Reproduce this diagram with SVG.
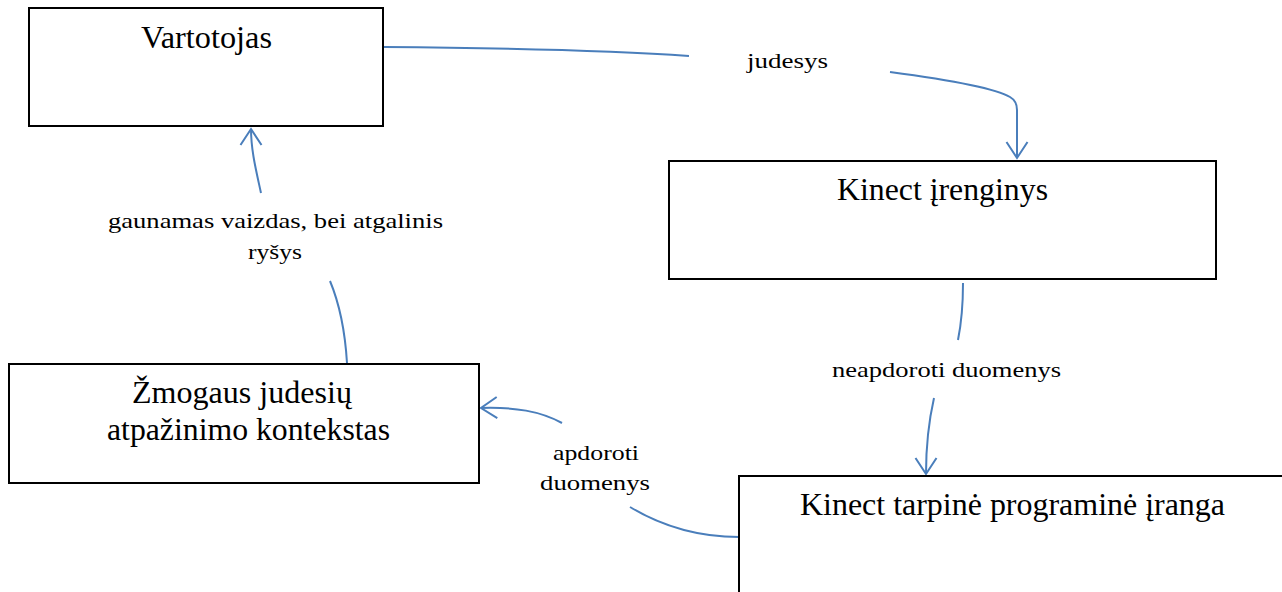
<svg xmlns="http://www.w3.org/2000/svg" width="1282" height="592" viewBox="0 0 1282 592">
  <style>
    .box { fill: #ffffff; stroke: #000000; stroke-width: 2; }
    .ntext { font-family: "Liberation Serif", "Times New Roman", serif; font-size: 32px; fill: #000000; }
    .ltext { font-family: "Liberation Serif", "Times New Roman", serif; font-size: 22px; fill: #000000; }
    .conn { fill: none; stroke: #4a7ebb; stroke-width: 2; }
  </style>
  <defs>
    <marker id="arrow" markerUnits="userSpaceOnUse" viewBox="-20 -14 24 28" refX="0" refY="0" markerWidth="24" markerHeight="28" orient="auto" overflow="visible">
      <path d="M-16,-10.5 L0,0 L-16,10.5" fill="none" stroke="#4a7ebb" stroke-width="2"/>
    </marker>
  </defs>
  <rect x="0" y="0" width="1282" height="592" fill="#ffffff"/>

  <g id="connectors">
    <path class="conn" d="M384,47 C500,48 620,51 689,56"/>
    <path class="conn" d="M890,72 C950,80 995,88 1010,97 Q1017,101 1017,110 L1017,158" marker-end="url(#arrow)"/>
    <path class="conn" d="M963,283 C963,305 961,325 958,340"/>
    <path class="conn" d="M934,398 C929,420 926,440 926,474" marker-end="url(#arrow)"/>
    <path class="conn" d="M739,537 C690,537 655,522 630,507"/>
    <path class="conn" d="M562,423 C540,411 515,407 481,408" marker-end="url(#arrow)"/>
    <path class="conn" d="M347,363 C345,330 340,305 330,281"/>
    <path class="conn" d="M261,193 C256,170 251,150 251,129" marker-end="url(#arrow)"/>
    <g id="edge-labels">
      <text class="ltext" x="747" y="68" textLength="81" lengthAdjust="spacingAndGlyphs">judesys</text>
      <text class="ltext" x="832" y="377" textLength="229" lengthAdjust="spacingAndGlyphs">neapdoroti duomenys</text>
      <text class="ltext" x="553" y="460" textLength="86" lengthAdjust="spacingAndGlyphs">apdoroti</text>
      <text class="ltext" x="540" y="490" textLength="110" lengthAdjust="spacingAndGlyphs">duomenys</text>
      <text class="ltext" x="108" y="228" textLength="335" lengthAdjust="spacingAndGlyphs">gaunamas vaizdas, bei atgalinis</text>
      <text class="ltext" x="248" y="259" textLength="54" lengthAdjust="spacingAndGlyphs">ryšys</text>
    </g>
  </g>

  <g id="node-vartotojas">
    <rect class="box" x="29" y="8" width="354" height="118"/>
    <text class="ntext" x="141" y="48" textLength="131" lengthAdjust="spacingAndGlyphs">Vartotojas</text>
  </g>
  <g id="node-kinect-irenginys">
    <rect class="box" x="669" y="161" width="547" height="118"/>
    <text class="ntext" x="837" y="200" textLength="211" lengthAdjust="spacingAndGlyphs">Kinect įrenginys</text>
  </g>
  <g id="node-zmogaus">
    <rect class="box" x="9" y="364" width="470" height="119"/>
    <text class="ntext" x="132" y="403" textLength="220" lengthAdjust="spacingAndGlyphs">Žmogaus judesių</text>
    <text class="ntext" x="107" y="440" textLength="283" lengthAdjust="spacingAndGlyphs">atpažinimo kontekstas</text>
  </g>
  <g id="node-kinect-tarpine">
    <rect class="box" x="739" y="476" width="600" height="200"/>
    <text class="ntext" x="800" y="515" textLength="425" lengthAdjust="spacingAndGlyphs">Kinect tarpinė programinė įranga</text>
  </g>
</svg>
